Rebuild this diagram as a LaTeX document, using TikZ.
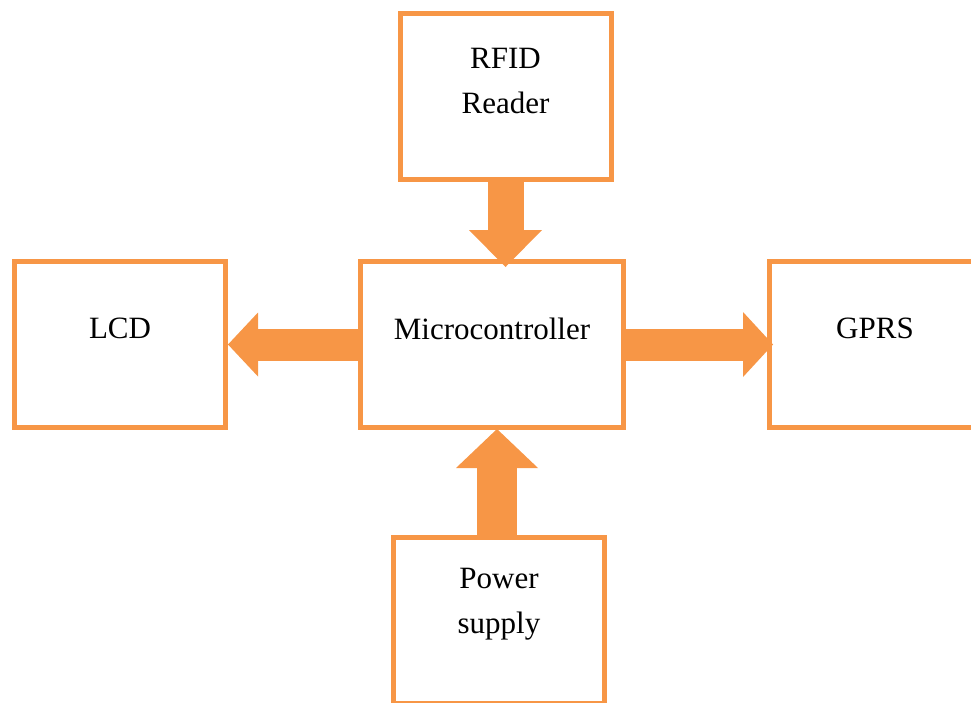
\documentclass[tikz,border=0pt]{standalone}
\usepackage{fontspec}
\setmainfont{Liberation Serif}
\usetikzlibrary{arrows.meta,calc}

\definecolor{orng}{HTML}{F79646}

\tikzset{
  blockbox/.style={draw=orng,line width=5pt,fill=white,inner sep=0pt,
    minimum width=211pt,minimum height=166pt},
  lbl/.style={align=center,yshift=16pt,inner sep=0pt,
    font=\fontsize{31}{45}\selectfont},
  flow/.style n args={3}{orng,line width=#1,
    -{Triangle[length=#2,width=#3,line width=0pt]}}
}

\begin{document}
\begin{tikzpicture}[x=1pt,y=-1pt]
\useasboundingbox (0,0) rectangle (971,702);
\clip (0,0) rectangle (971,702);

% blocks
\node[blockbox,label={[lbl]center:{RFID\\Reader}}] (rfid) at (505.5,96.5) {};
\node[blockbox,label={[lbl]center:LCD}] (lcd) at (120,344.5) {};
\node[blockbox,minimum width=263pt,label={[lbl]center:Microcontroller}] (mcu) at (492,344.5) {};
\node[blockbox,label={[lbl]center:GPRS}] (gprs) at (875,344.5) {};
\node[blockbox,label={[lbl]center:{Power\\supply}}] (power) at (499,620.5) {};

% block arrows
\draw[flow={36pt}{37pt}{73pt}] (rfid.south) -- ($(rfid.south |- mcu.north)+(0,8)$);
\draw[flow={32pt}{30pt}{64pt}] (mcu.west) -- (lcd.east);
\draw[flow={32pt}{30pt}{65pt}] (mcu.east) -- ($(gprs.west)+(6,0)$);
\draw[flow={40pt}{39pt}{82pt}] ($(power.north)+(-2,0)$) -- ($(power.north |- mcu.south)+(-2,-1)$);
\end{tikzpicture}
\end{document}
